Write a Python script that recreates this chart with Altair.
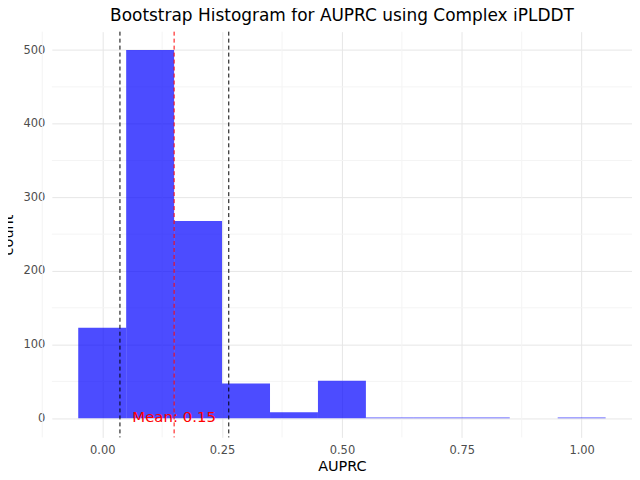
import pandas as pd
import altair as alt

bin_centers = [0.0, 0.1, 0.2, 0.3, 0.4, 0.5, 0.6, 0.7, 0.8, 0.9, 1.0]
counts = [123, 500, 268, 47, 8, 51, 1, 1, 1, 0, 1]
ci_low, ci_high, mean_val = 0.037, 0.264, 0.15

bars = pd.DataFrame({
    "start": [c - 0.05 for c in bin_centers],
    "end": [c + 0.05 for c in bin_centers],
    "count": counts,
})
minor_x = pd.DataFrame({"x": [-0.125, 0.125, 0.375, 0.625, 0.875]})
minor_y = pd.DataFrame({"y": [50, 150, 250, 350, 450]})
vlines = pd.DataFrame({"x": [ci_low, ci_high]})
mean_df = pd.DataFrame({"x": [mean_val], "y": [0], "label": [f"Mean: {mean_val:.2f}"]})

xs = alt.Scale(domain=[-0.105, 1.105], nice=False, zero=False)
ys = alt.Scale(domain=[-26, 525], nice=False, zero=False)

mx = alt.Chart(minor_x).mark_rule(color="#f4f4f4").encode(x=alt.X("x:Q", scale=xs))
my = alt.Chart(minor_y).mark_rule(color="#f4f4f4").encode(y=alt.Y("y:Q", scale=ys))

hist = alt.Chart(bars).mark_bar(color="#0000ff", opacity=0.7).encode(
    x=alt.X("start:Q", scale=xs, title="AUPRC",
            axis=alt.Axis(values=[0, 0.25, 0.5, 0.75, 1.0], format=".2f")),
    x2="end:Q",
    y=alt.Y("count:Q", scale=ys, title="count",
            axis=alt.Axis(values=[0, 100, 200, 300, 400, 500], titlePadding=8)),
    y2=alt.datum(0),
)

ci = alt.Chart(vlines).mark_rule(color="black", strokeDash=[4, 3]).encode(x=alt.X("x:Q", scale=xs))
mean_line = alt.Chart(mean_df).mark_rule(color="red", strokeDash=[4, 3]).encode(x=alt.X("x:Q", scale=xs))
mean_text = alt.Chart(mean_df).mark_text(color="red", fontSize=15, font="DejaVu Sans",
                                         baseline="middle", dy=-1).encode(
    x=alt.X("x:Q", scale=xs), y=alt.Y("y:Q", scale=ys), text="label:N")

chart = alt.layer(mx, my, hist, ci, mean_line, mean_text).properties(
    width=582, height=407,
    autosize="none",
    padding={"left": 44, "top": 23, "right": 0, "bottom": 34},
    title=alt.TitleParams("Bootstrap Histogram for AUPRC using Complex iPLDDT",
                          fontSize=17, fontWeight="normal", font="DejaVu Sans", offset=6),
).configure_view(stroke=None).configure_axis(
    domain=False, ticks=False, gridColor="#e6e6e6", labelColor="#4d4d4d",
    labelFont="DejaVu Sans", labelFontSize=11.5, titleFont="DejaVu Sans",
    titleFontSize=14.5, titleFontWeight="normal", labelPadding=7, titleColor="black",
)

chart.save("out.html", embed_options={"renderer": "svg", "actions": False})
